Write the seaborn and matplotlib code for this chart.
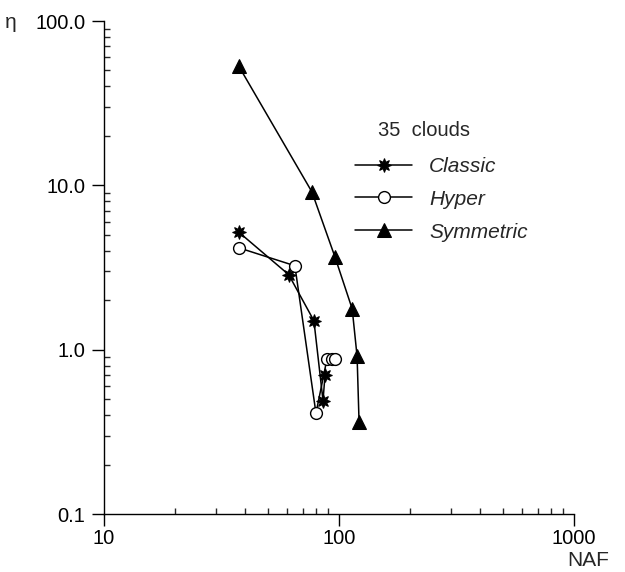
import matplotlib
matplotlib.use("Agg")
import matplotlib.pyplot as plt
from matplotlib.ticker import FixedLocator, FixedFormatter, LogLocator, NullFormatter
import seaborn as sns
import pandas as pd

# ---- data ----
classic_naf = [37.4, 61.1, 78.2, 85.5, 87.2]
classic_eta = [5.2, 2.86, 1.50, 0.49, 0.70]

hyper_naf = [37.4, 64.9, 79.8, 88.9, 93.4, 96.1]
hyper_eta = [4.17, 3.24, 0.41, 0.88, 0.88, 0.88]

symmetric_naf = [37.4, 76.7, 96.1, 113.8, 119.4, 121.7]
symmetric_eta = [53.3, 9.12, 3.67, 1.77, 0.91, 0.365]

x_ticks = [10, 100, 1000]
x_tick_labels = ["10", "100", "1000"]
y_ticks = [0.1, 1.0, 10.0, 100.0]
y_tick_labels = ["0.1", "1.0", "10.0", "100.0"]

sns.set_style("ticks")
plt.rcParams["font.family"] = ["Liberation Sans", "DejaVu Sans"]

fig = plt.figure(figsize=(6.25, 5.72), dpi=100)
ax = fig.add_axes([104 / 625, 1 - 514 / 572, (574 - 104) / 625, (514 - 21) / 572])

series = [
    ("Classic", classic_naf, classic_eta, dict(marker=(8, 1, 0), markersize=10,
                                                 markerfacecolor="black", markeredgecolor="black")),
    ("Hyper", hyper_naf, hyper_eta, dict(marker="o", markersize=8.5,
                                           markerfacecolor="white", markeredgecolor="black",
                                           markeredgewidth=1.0)),
    ("Symmetric", symmetric_naf, symmetric_eta, dict(marker="^", markersize=9.5,
                                                       markerfacecolor="black", markeredgecolor="black")),
]

for name, xs, ys, mk in series:
    df = pd.DataFrame({"NAF": xs, "eta": ys})
    sns.lineplot(data=df, x="NAF", y="eta", ax=ax, color="black", linewidth=1.1,
                 label=name, sort=False, **mk)

ax.set_xscale("log")
ax.set_yscale("log")
ax.set_xlim(10, 1000)
ax.set_ylim(0.1, 100)

ax.xaxis.set_major_locator(FixedLocator(x_ticks))
ax.xaxis.set_major_formatter(FixedFormatter(x_tick_labels))
ax.yaxis.set_major_locator(FixedLocator(y_ticks))
ax.yaxis.set_major_formatter(FixedFormatter(y_tick_labels))
ax.xaxis.set_minor_locator(LogLocator(base=10, subs=range(2, 10)))
ax.yaxis.set_minor_locator(LogLocator(base=10, subs=range(2, 10)))
ax.xaxis.set_minor_formatter(NullFormatter())
ax.yaxis.set_minor_formatter(NullFormatter())

ax.tick_params(which="major", direction="out", length=8.5, width=1.0, labelsize=14.5, colors="black")
ax.tick_params(axis="y", which="major", pad=5)
ax.tick_params(axis="x", which="major", pad=2)
ax.tick_params(which="minor", direction="in", length=4, width=1.0)

for s in ["top", "right"]:
    ax.spines[s].set_visible(False)
for s in ["left", "bottom"]:
    ax.spines[s].set_linewidth(1.0)
    ax.spines[s].set_color("black")

ax.set_xlabel("")
ax.set_ylabel("")

fig.text(5 / 625, 1 - 22 / 572, "\u03b7", ha="left", va="center", fontsize=15)
fig.text(588 / 625, 1 - 561 / 572, "NAF", ha="center", va="center", fontsize=15)

fig.text(378 / 625, 1 - 130 / 572, "35  clouds", ha="left", va="center", fontsize=14.5)
leg = ax.legend(loc="upper left", bbox_to_anchor=(355 / 625, 1 - 157 / 572),
                bbox_transform=fig.transFigure, frameon=False, borderpad=0, borderaxespad=0,
                handlelength=2.75, handletextpad=0.8, labelspacing=0.66,
                prop={"style": "italic", "size": 15})

fig.savefig("out.png", dpi=100, facecolor="white")
